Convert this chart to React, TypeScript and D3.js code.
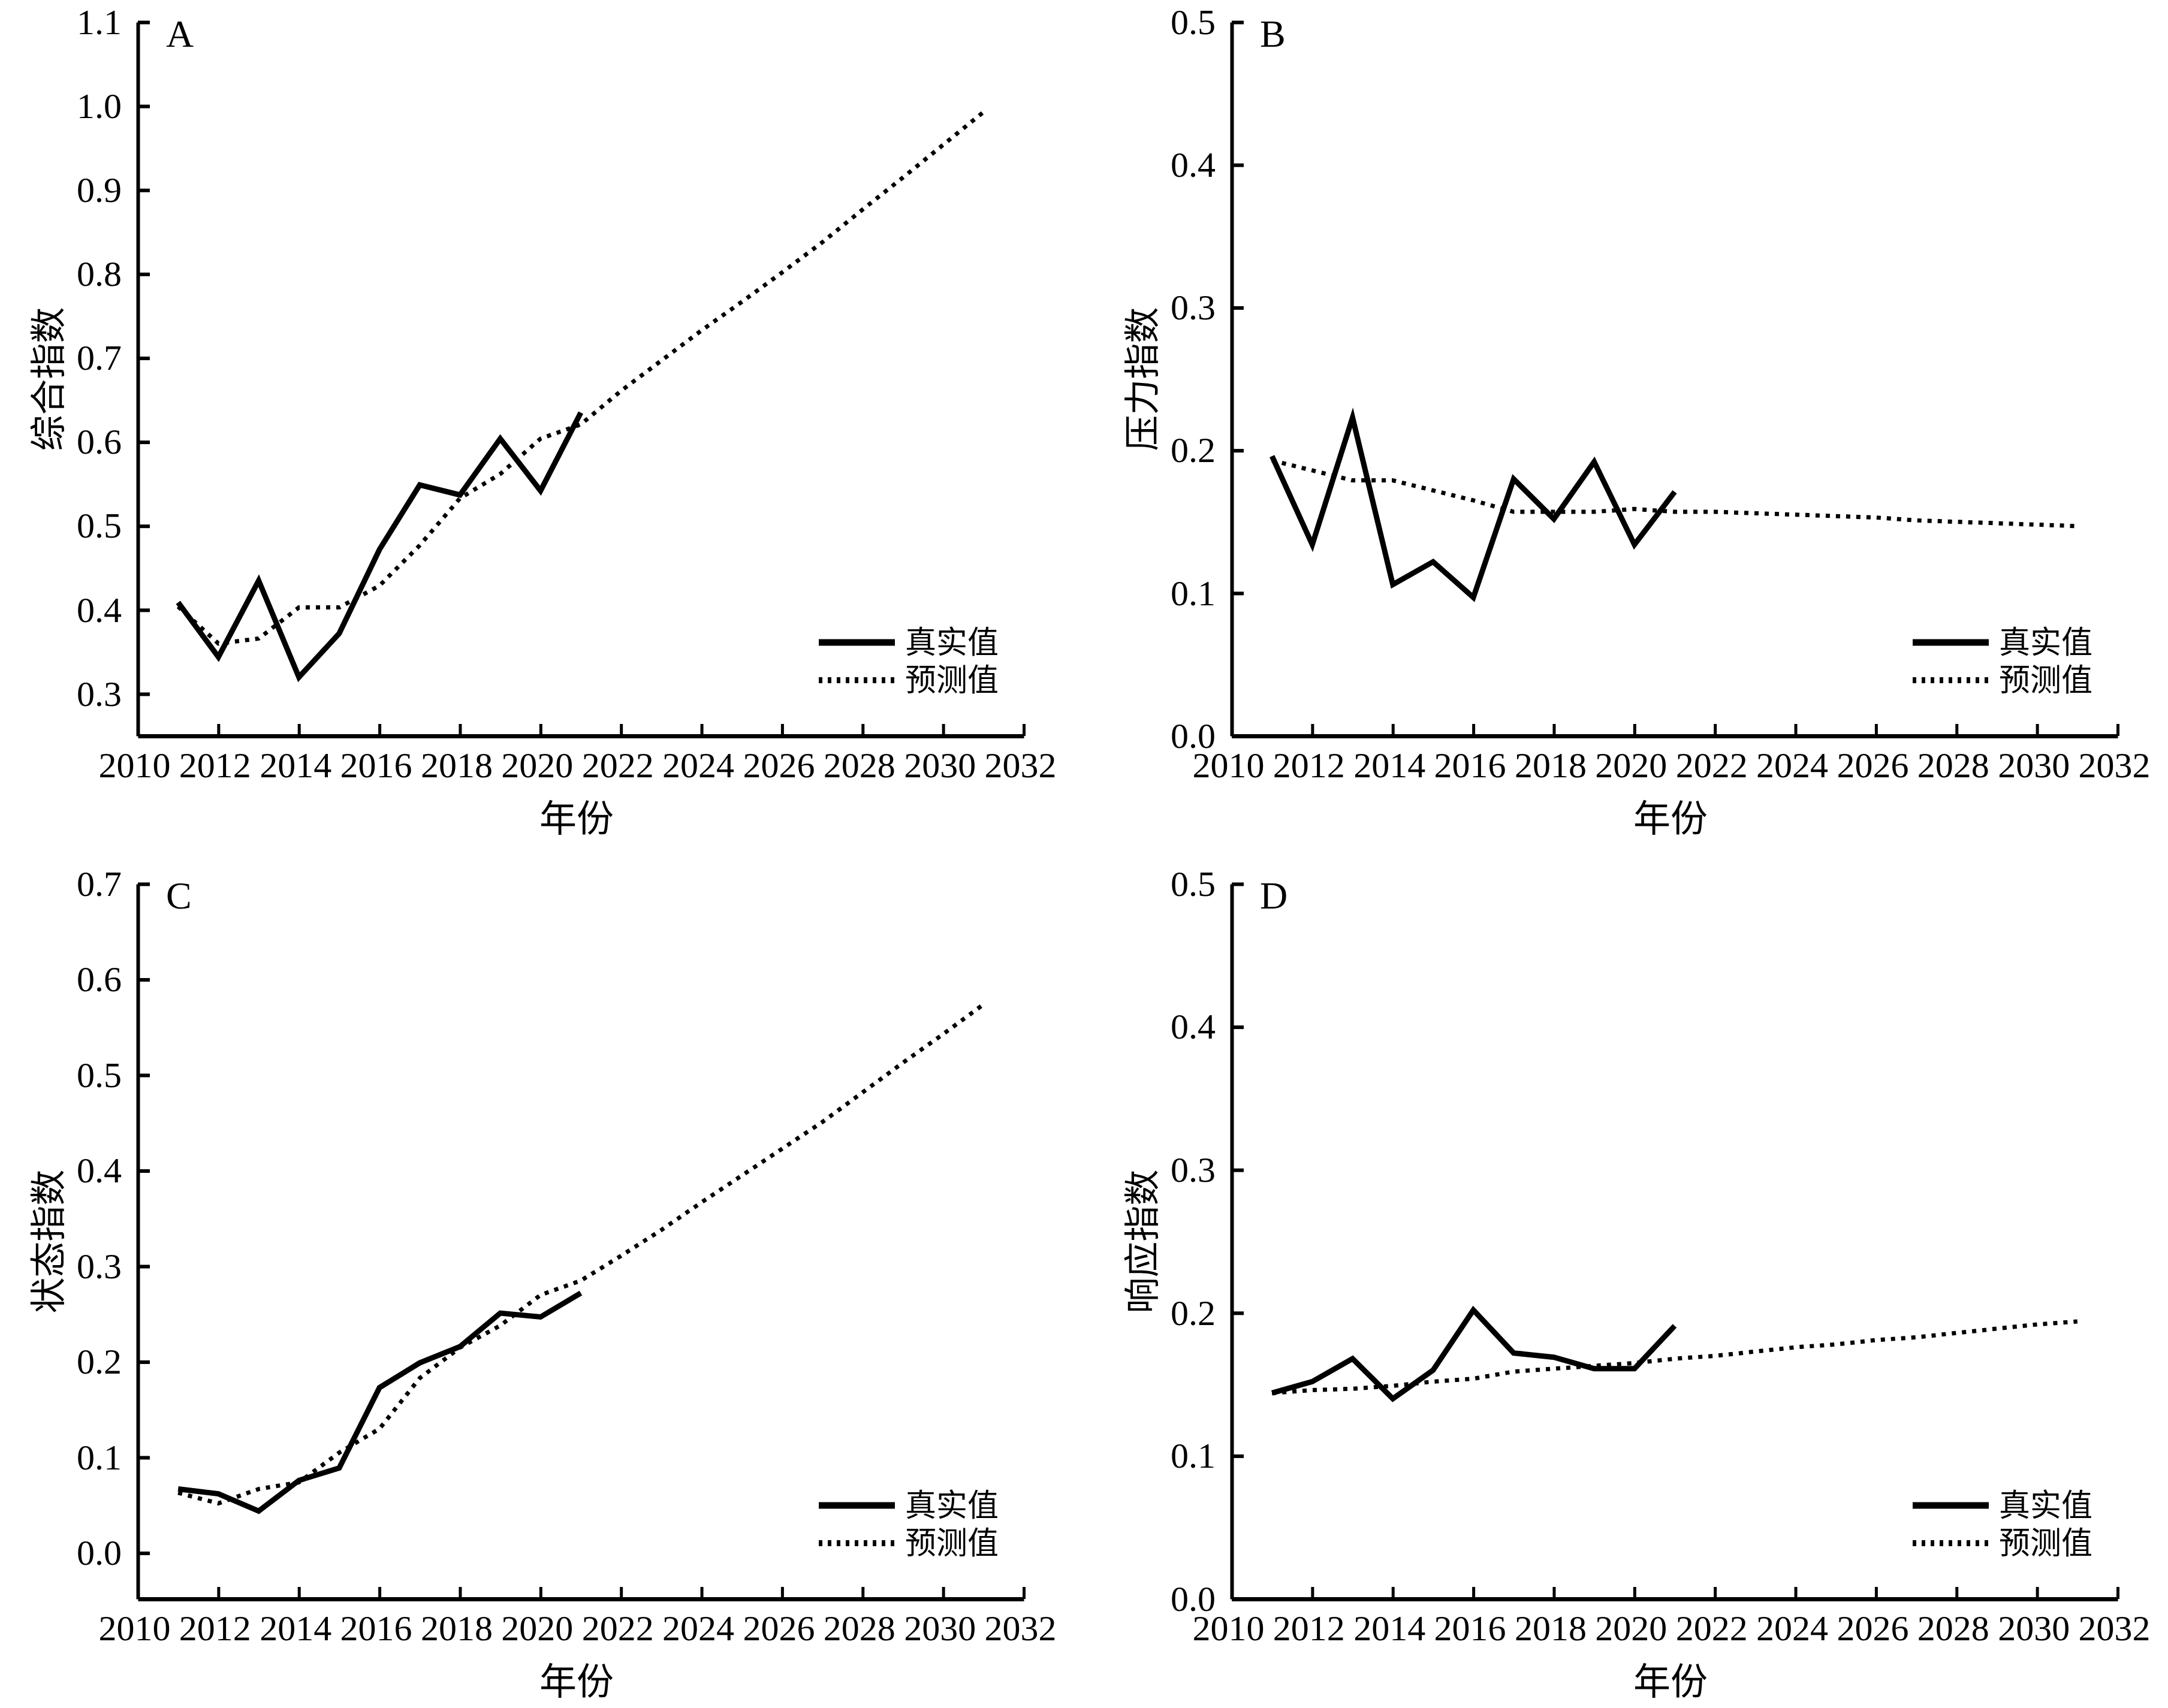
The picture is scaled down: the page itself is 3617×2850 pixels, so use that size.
import React, { useRef, useEffect } from 'react';
import * as d3 from 'd3';

// years on the x axis
const actualYears = [2011, 2012, 2013, 2014, 2015, 2016, 2017, 2018, 2019, 2020, 2021];
const forecastYears = [
  2011, 2012, 2013, 2014, 2015, 2016, 2017, 2018, 2019, 2020, 2021,
  2022, 2023, 2024, 2025, 2026, 2027, 2028, 2029, 2030, 2031,
];
const xTicks = [2010, 2012, 2014, 2016, 2018, 2020, 2022, 2024, 2026, 2028, 2030, 2032];

// A 综合指数
const compActual = [0.409, 0.344, 0.435, 0.320, 0.372, 0.472, 0.549, 0.537, 0.604, 0.542, 0.635];
const compForecast = [
  0.404, 0.360, 0.366, 0.403, 0.403, 0.429, 0.477, 0.533, 0.562, 0.604, 0.621,
  0.661, 0.697, 0.733, 0.767, 0.802, 0.838, 0.877, 0.915, 0.954, 0.993,
];
const compTicks = [0.3, 0.4, 0.5, 0.6, 0.7, 0.8, 0.9, 1.0, 1.1];

// B 压力指数
const pressActual = [0.196, 0.134, 0.223, 0.106, 0.122, 0.097, 0.180, 0.152, 0.192, 0.134, 0.171];
const pressForecast = [
  0.193, 0.186, 0.179, 0.179, 0.172, 0.165, 0.157, 0.157, 0.157, 0.159, 0.157,
  0.157, 0.156, 0.155, 0.154, 0.153, 0.151, 0.150, 0.149, 0.148, 0.147,
];
const pressTicks = [0.0, 0.1, 0.2, 0.3, 0.4, 0.5];

// C 状态指数
const stateActual = [0.067, 0.062, 0.044, 0.076, 0.089, 0.173, 0.199, 0.216, 0.251, 0.247, 0.272];
const stateForecast = [
  0.063, 0.052, 0.067, 0.074, 0.105, 0.130, 0.183, 0.215, 0.238, 0.270, 0.285,
  0.311, 0.338, 0.367, 0.395, 0.423, 0.451, 0.482, 0.513, 0.543, 0.574,
];
const stateTicks = [0.0, 0.1, 0.2, 0.3, 0.4, 0.5, 0.6, 0.7];

// D 响应指数
const respActual = [0.144, 0.152, 0.168, 0.140, 0.160, 0.202, 0.172, 0.169, 0.161, 0.161, 0.191];
const respForecast = [
  0.144, 0.146, 0.147, 0.149, 0.152, 0.154, 0.159, 0.161, 0.163, 0.165, 0.168,
  0.170, 0.173, 0.176, 0.178, 0.181, 0.183, 0.186, 0.189, 0.192, 0.194,
];
const respTicks = [0.0, 0.1, 0.2, 0.3, 0.4, 0.5];

const legendLabels = ['真实值', '预测值'];

const NUM_FONT = '"Liberation Serif", "Times New Roman", serif';
const CJK_FONT = '"Noto Sans CJK SC", sans-serif';

type PanelProps = {
  letter: string;
  yLabel: string;
  actual: number[];
  forecast: number[];
  yDomain: [number, number];
  yTicks: number[];
  left: number;
  top: number;
  width: number;
  height: number;
};

const Panel: React.FC<PanelProps> = ({ letter, yLabel, actual, forecast, yDomain, yTicks, left, top, width, height }) => {
  const gRef = useRef<SVGGElement | null>(null);

  useEffect(() => {
    if (!gRef.current) return;
    const g = d3.select(gRef.current);
    g.selectAll('*').remove();

    const x = d3.scaleLinear().domain([2010, 2032]).range([0, width]);
    const y = d3.scaleLinear().domain(yDomain).range([height, 0]);

    // y axis, ticks point inward
    const yAxis = g.append('g')
      .call(d3.axisLeft(y).tickValues(yTicks).tickSize(-20).tickSizeOuter(0).tickPadding(27).tickFormat(d3.format('.1f')));
    yAxis.select('.domain').attr('stroke', '#000').attr('stroke-width', 6);
    yAxis.selectAll('.tick line').attr('stroke', '#000').attr('stroke-width', 6);
    yAxis.selectAll('.tick text')
      .attr('fill', '#000')
      .style('font-family', NUM_FONT)
      .style('font-size', '60px');

    // x axis
    const xAxis = g.append('g')
      .attr('transform', `translate(0,${height})`)
      .call(d3.axisBottom(x).tickValues(xTicks).tickSize(-20).tickSizeOuter(0).tickPadding(26).tickFormat(d3.format('d')));
    xAxis.select('.domain').attr('stroke', '#000').attr('stroke-width', 7);
    xAxis.selectAll('.tick line').attr('stroke', '#000').attr('stroke-width', 5);
    xAxis.selectAll('.tick text')
      .attr('fill', '#000')
      .attr('dx', -6)
      .style('font-family', NUM_FONT)
      .style('font-size', '60px');

    const line = d3.line<number>();

    // forecast (dotted)
    g.append('path')
      .attr('d', line(forecast.map((v, i) => [x(forecastYears[i]), y(v)] as [number, number])))
      .attr('fill', 'none')
      .attr('stroke', '#000')
      .attr('stroke-width', 7)
      .attr('stroke-dasharray', '7,10');

    // actual (solid)
    g.append('path')
      .attr('d', line(actual.map((v, i) => [x(actualYears[i]), y(v)] as [number, number])))
      .attr('fill', 'none')
      .attr('stroke', '#000')
      .attr('stroke-width', 9)
      .attr('stroke-linejoin', 'miter');

    // panel letter
    g.append('text')
      .attr('x', 47)
      .attr('y', 41)
      .text(letter)
      .style('font-family', NUM_FONT)
      .style('font-size', '64px');

    // axis titles
    g.append('text')
      .attr('transform', `translate(-155,${height / 2}) rotate(-90)`)
      .attr('text-anchor', 'middle')
      .attr('dominant-baseline', 'central')
      .text(yLabel)
      .style('font-family', CJK_FONT)
      .style('font-size', '60px');

    g.append('text')
      .attr('x', width / 2 - 7)
      .attr('y', height + 133)
      .attr('text-anchor', 'middle')
      .attr('dominant-baseline', 'central')
      .text('年份')
      .style('font-family', CJK_FONT)
      .style('font-size', '62px');

    // legend: two sample lines, labels set as one text block
    const legend = g.append('g').attr('transform', `translate(1136,${height - 156})`);
    legendLabels.forEach((_, i) => {
      legend.append('line')
        .attr('x1', 0)
        .attr('x2', 127)
        .attr('y1', i * 63)
        .attr('y2', i * 63)
        .attr('stroke', '#000')
        .attr('stroke-width', i === 0 ? 11 : 10)
        .attr('stroke-dasharray', i === 0 ? null : '6,9');
    });
    const legendText = legend.append('text')
      .style('font-family', CJK_FONT)
      .style('font-size', '52px');
    legendLabels.forEach((label, i) => {
      legendText.append('tspan')
        .attr('x', 144)
        .attr('y', i * 63 + 18)
        .text(label);
    });
  }, [letter, yLabel, actual, forecast, yDomain, yTicks, width, height]);

  return <g ref={gRef} transform={`translate(${left},${top})`} />;
};

const App: React.FC = () => {
  const W = 1478;
  return (
    <div style={{ position: 'absolute', left: 0, top: 0 }}>
      <svg width={3617} height={2850} style={{ display: 'block', background: '#fff' }}>
        <Panel letter="A" yLabel="综合指数" actual={compActual} forecast={compForecast}
          yDomain={[0.25, 1.1]} yTicks={compTicks} left={230} top={37} width={W} height={1191} />
        <Panel letter="B" yLabel="压力指数" actual={pressActual} forecast={pressForecast}
          yDomain={[0, 0.5]} yTicks={pressTicks} left={2055} top={37} width={W} height={1191} />
        <Panel letter="C" yLabel="状态指数" actual={stateActual} forecast={stateForecast}
          yDomain={[-0.048, 0.7]} yTicks={stateTicks} left={230} top={1475} width={W} height={1193} />
        <Panel letter="D" yLabel="响应指数" actual={respActual} forecast={respForecast}
          yDomain={[0, 0.5]} yTicks={respTicks} left={2055} top={1475} width={W} height={1193} />
      </svg>
    </div>
  );
};

export default App;
